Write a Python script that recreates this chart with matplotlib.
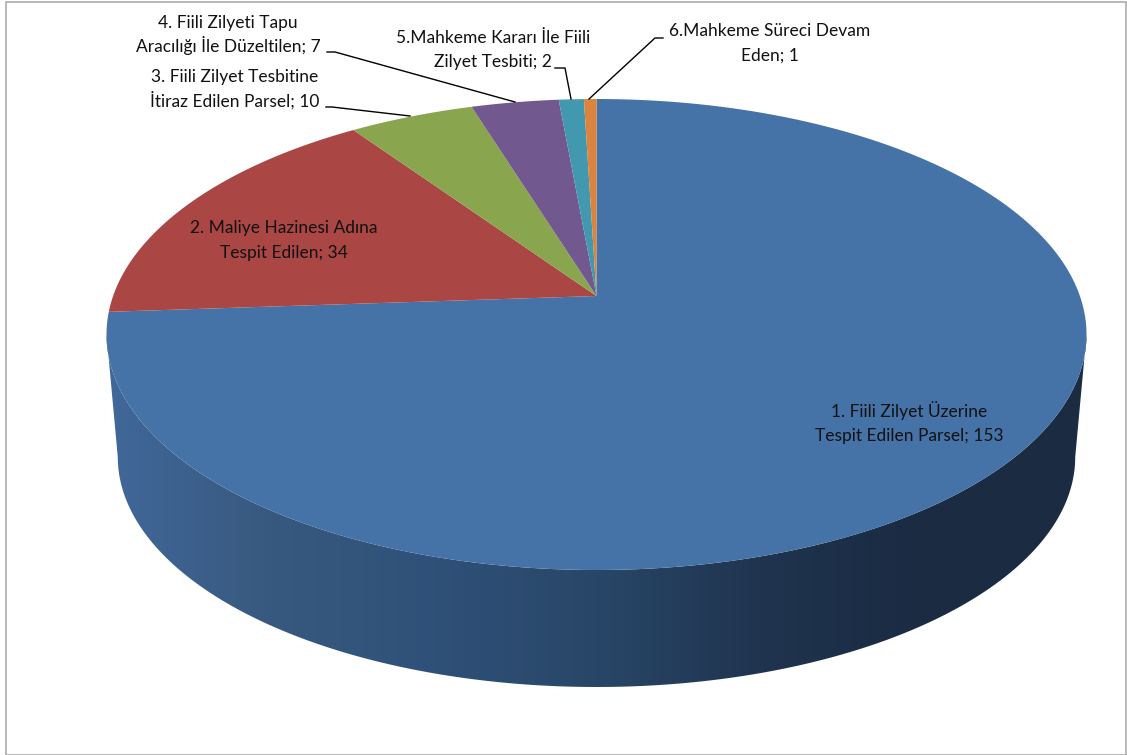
import numpy as np
import matplotlib
matplotlib.use('Agg')
import matplotlib.pyplot as plt
from matplotlib.colors import LinearSegmentedColormap
from matplotlib.patches import Polygon, Rectangle
from matplotlib.path import Path
from matplotlib.transforms import Affine2D, Transform

plt.rcParams['font.family'] = ['Lato', 'Open Sans', 'DejaVu Sans']

# data
names = ['1. Fiili Zilyet Üzerine\nTespit Edilen Parsel',
         '2. Maliye Hazinesi Adına\nTespit Edilen',
         '3. Fiili Zilyet Tesbitine\nİtiraz Edilen Parsel',
         '4. Fiili Zilyeti Tapu\nAracılığı İle Düzeltilen',
         '5.Mahkeme Kararı İle Fiili\nZilyet Tesbiti',
         '6.Mahkeme Süreci Devam\nEden']
values = [153, 34, 10, 7, 2, 1]

# look of the chart (pixels)
colors = ['#4572A7', '#AA4643', '#89A54E', '#71588F', '#4198AF', '#DB843D']
label_pos = [(909, 424), (284, 240.5), (235, 89.5), (228, 35), (493, 50), (770, 43.5)]
leaders = [None, None,
           [(326, 107), (332, 107), (410, 116)],
           [(327, 52), (335, 52), (515, 102)],
           [(555, 68), (565, 68), (571, 99)],
           [(663, 38), (655, 38), (589, 99)]]
wall_colors = ['#41689A', '#38597F', '#2F5078', '#284768', '#20344F', '#1A2B42', '#1A2B42']
line_gap = 24.4


class Tilt(Transform):
    # puts the flat unit pie on the tilted plane with some perspective
    input_dims = 2
    output_dims = 2

    def __init__(self, cx, cy, a, b, k):
        super().__init__()
        self.cx, self.cy, self.a, self.b, self.k = cx, cy, a, b, k

    def transform_non_affine(self, xy):
        xy = np.asarray(xy, dtype=float)
        w = 1 + self.k * xy[:, 1]
        return np.column_stack([self.cx + self.a * xy[:, 0] / w,
                                self.cy - self.b * xy[:, 1] / w])

    def transform_path_non_affine(self, path):
        # curves are flattened by size, so blow the unit pie up first
        poly = path.to_polygons(transform=Affine2D().scale(3000), closed_only=True)[0] / 3000
        return Path(self.transform_non_affine(poly))


k = 0.1635
top = Tilt(596.5, 296, 483.4, 229.2, k)
low = Tilt(596.5, 419.3, 483.4 * 0.977, 229.2 * 0.977, k)

fig = plt.figure(figsize=(11.27, 7.55), dpi=100)
ax = fig.add_axes([0, 0, 1, 1])

wedges, _ = ax.pie(values, colors=colors, startangle=90, counterclock=False)
for w in wedges:
    w.set_transform(top + ax.transData)
    w.set_zorder(3)

# side of the pie, only the front half shows
t = np.linspace(np.pi + np.arcsin(k), 2 * np.pi - np.arcsin(k), 300)
rim = np.column_stack([np.cos(t), np.sin(t)])
outline = np.vstack([top.transform_non_affine(rim), low.transform_non_affine(rim)[::-1]])
grad = LinearSegmentedColormap.from_list('wall', wall_colors)
img = ax.imshow(np.linspace(0, 1, 512).reshape(1, -1), cmap=grad, aspect='auto',
                extent=(106, 1087, 700, 300), zorder=2)
wall = Polygon(outline, closed=True, transform=ax.transData, facecolor='none', edgecolor='none')
ax.add_patch(wall)
img.set_clip_path(wall)

ax.set_aspect('auto')
ax.set_xlim(0, 1127)
ax.set_ylim(755, 0)
ax.axis('off')

ax.add_patch(Rectangle((5.5, 1.5), 1120, 753, facecolor='none', edgecolor='#A6A6A6', linewidth=1.1, zorder=1))

for i in range(len(names)):
    # each line on its own so İ does not push the line spacing around
    lines = (names[i] + '; ' + str(values[i])).split('\n')
    ax.text(label_pos[i][0], label_pos[i][1] - line_gap / 2 + 5, lines[0],
            ha='center', va='baseline', fontsize=12.5, color='#111111', zorder=5)
    ax.text(label_pos[i][0], label_pos[i][1] + line_gap / 2 + 5, lines[1],
            ha='center', va='baseline', fontsize=12.5, color='#111111', zorder=5)
    if leaders[i] is not None:
        xs = [p[0] for p in leaders[i]]
        ys = [p[1] for p in leaders[i]]
        ax.plot(xs, ys, color='black', linewidth=1.0, zorder=4)

ax.set_xlim(0, 1127)
ax.set_ylim(755, 0)
fig.savefig('out.png', dpi=100)
